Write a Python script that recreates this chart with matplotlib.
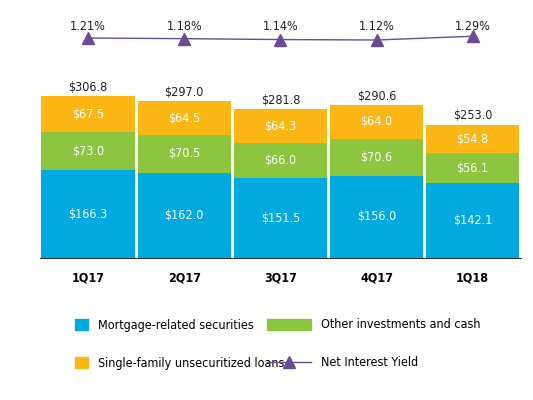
import matplotlib
matplotlib.use("Agg")
import matplotlib.pyplot as plt
from matplotlib.patches import Patch
from matplotlib.lines import Line2D

plt.rcParams['font.family'] = ['DejaVu Sans']
plt.rcParams['font.stretch'] = 'condensed'

quarters = ["1Q17", "2Q17", "3Q17", "4Q17", "1Q18"]
mortgage = [166.3, 162.0, 151.5, 156.0, 142.1]
other = [73.0, 70.5, 66.0, 70.6, 56.1]
single = [67.5, 64.5, 64.3, 64.0, 54.8]
totals = [306.8, 297.0, 281.8, 290.6, 253.0]
yield_pct = [1.21, 1.18, 1.14, 1.12, 1.29]

blue, green, orange, purple = "#00A9E0", "#8CC63F", "#FDB714", "#6A4C93"
fs = 9

fig = plt.figure(figsize=(5.33, 4.0), dpi=100)
ax = fig.add_axes([0.075, 0.355, 0.902, 0.435])
x = range(len(quarters))
w = 0.97
ax.bar(x, mortgage, w, color=blue)
ax.bar(x, other, w, bottom=mortgage, color=green)
b2 = [m + o for m, o in zip(mortgage, other)]
ax.bar(x, single, w, bottom=b2, color=orange)
for i in x:
    ax.text(i, mortgage[i] / 2, f"${mortgage[i]:.1f}", ha="center", va="center", color="white", fontsize=fs)
    ax.text(i, mortgage[i] + other[i] / 2, f"${other[i]:.1f}", ha="center", va="center", color="white", fontsize=fs)
    ax.text(i, b2[i] + single[i] / 2, f"${single[i]:.1f}", ha="center", va="center", color="white", fontsize=fs)
    ax.text(i, totals[i] + 4, f"${totals[i]:.1f}", ha="center", va="bottom", color="#222222", fontsize=fs)
ax.set_xlim(-0.5, 4.5)
ax.set_ylim(0, 330)
ax.set_xticks(list(x))
ax.set_xticklabels(quarters, fontweight="bold", fontsize=fs)
ax.tick_params(axis="x", length=0, pad=10)
ax.set_yticks([])
for s in ["top", "right", "left"]:
    ax.spines[s].set_visible(False)
ax.spines["bottom"].set_color("#333333")

lax = fig.add_axes([0.075, 0.86, 0.902, 0.1])
lax.plot(list(x), yield_pct, color=purple, marker="^", markersize=8, lw=1)
for i in x:
    lax.text(i, 1.45, f"{yield_pct[i]:.2f}%", ha="center", va="bottom", fontsize=fs, color="#222222")
lax.set_xlim(-0.5, 4.5)
lax.set_ylim(0.4, 2.2)
lax.axis("off")

handles = [Patch(color=blue), Patch(color=orange), Patch(color=green),
           Line2D([0], [0], color=purple, marker="^", markersize=8, lw=1)]
labels = ["Mortgage-related securities", "Single-family unsecuritized loans",
          "Other investments and cash", "Net Interest Yield"]
leg = fig.legend(handles[:2], labels[:2], loc="center left", bbox_to_anchor=(0.12, 0.14),
           frameon=False, fontsize=fs, handlelength=1.0, handleheight=1.0, labelspacing=2.0)
fig.legend(handles[2:], labels[2:], loc="center left", bbox_to_anchor=(0.48, 0.14),
           frameon=False, fontsize=fs, handlelength=3.5, handleheight=1.0, labelspacing=2.0)
fig.savefig("out.png", dpi=100)
